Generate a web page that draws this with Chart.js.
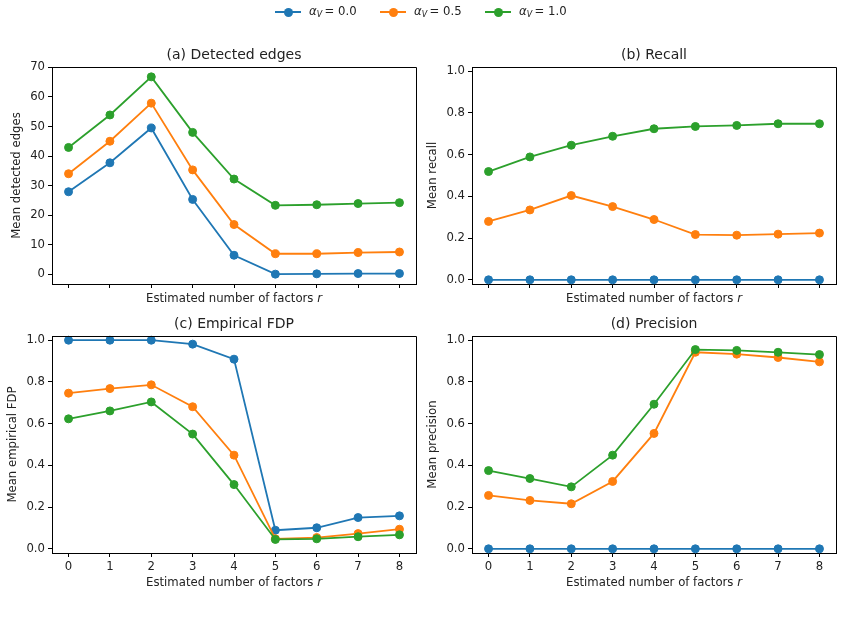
<!DOCTYPE html>
<html>
<head>
<meta charset="utf-8">
<script src="https://cdn.jsdelivr.net/npm/chart.js@4/dist/chart.umd.min.js"></script>
<style>
  html, body { margin: 0; padding: 0; background: #fff; }
  #wrap { position: relative; width: 843px; height: 630px; overflow: hidden; background: #fff; }
  #wrap canvas { position: absolute; left: 0; top: 0; }
  .leg { position: absolute; top: 3px; height: 18px; font-family: "DejaVu Sans", sans-serif; font-size: 11.7px; color: #222; }
  .leg .ln { position: absolute; left: 0; top: 8px; width: 26px; height: 2px; }
  .leg .dot { position: absolute; left: 8.5px; top: 4.5px; width: 9px; height: 9px; border-radius: 50%; }
  .leg .tx { position: absolute; left: 34px; top: 1px; white-space: nowrap; }
  .leg sub { font-size: 8px; vertical-align: -2px; }
</style>
</head>
<body>
<div id="wrap">
  <canvas id="ca" width="843" height="630"></canvas>
  <canvas id="cb" width="843" height="630"></canvas>
  <canvas id="cc" width="843" height="630"></canvas>
  <canvas id="cd" width="843" height="630"></canvas>
  <div id="legend"></div>
</div>
<script>
// ---- data ----
const factors = [0, 1, 2, 3, 4, 5, 6, 7, 8];
const alphaLabels = ['0.0', '0.5', '1.0'];

const edgesA0  = [27.9, 37.7, 49.5, 25.3, 6.4, 0.0, 0.1, 0.2, 0.2];
const edgesA05 = [34.0, 45.0, 57.9, 35.3, 16.8, 6.9, 6.9, 7.3, 7.5];
const edgesA1  = [42.9, 53.9, 66.8, 48.0, 32.2, 23.3, 23.5, 23.9, 24.2];

const recallA0  = [0, 0, 0, 0, 0, 0, 0, 0, 0];
const recallA05 = [0.280, 0.335, 0.404, 0.351, 0.289, 0.217, 0.214, 0.219, 0.224];
const recallA1  = [0.519, 0.589, 0.645, 0.688, 0.724, 0.735, 0.740, 0.748, 0.748];

const fdpA0  = [1.0, 1.0, 1.0, 0.981, 0.909, 0.089, 0.101, 0.150, 0.158];
const fdpA05 = [0.746, 0.768, 0.786, 0.681, 0.449, 0.048, 0.054, 0.073, 0.094];
const fdpA1  = [0.623, 0.661, 0.704, 0.550, 0.308, 0.045, 0.048, 0.058, 0.067];

const precA0  = [0, 0, 0, 0, 0, 0, 0, 0, 0];
const precA05 = [0.256, 0.232, 0.216, 0.323, 0.553, 0.942, 0.933, 0.917, 0.896];
const precA1  = [0.375, 0.337, 0.297, 0.449, 0.693, 0.955, 0.951, 0.942, 0.931];

const edgeTicks = [0, 10, 20, 30, 40, 50, 60, 70];
const unitTicks = [0, 0.2, 0.4, 0.6, 0.8, 1.0];

const titles = ['(a) Detected edges', '(b) Recall', '(c) Empirical FDP', '(d) Precision'];
const yLabels = ['Mean detected edges', 'Mean recall', 'Mean empirical FDP', 'Mean precision'];
const xLabelText = 'Estimated number of factors ';
const xLabelVar = 'r';

// ---- styling ----
const colors = ['#1f77b4', '#ff7f0e', '#2ca02c'];
const FONT = '"DejaVu Sans", sans-serif';
const TXT = '#222';
const W = 843, H = 630;
const WY = 50, HX = 40;
const TITLE_SIZE = 14, TITLE_PB = 3.6, TITLE_H = TITLE_SIZE * 1.2 + TITLE_PB;

// legend
const legend = document.getElementById('legend');
const legX = [275, 380, 485];
alphaLabels.forEach((a, i) => {
  const d = document.createElement('div');
  d.className = 'leg';
  d.style.left = legX[i] + 'px';
  d.innerHTML = '<div class="ln" style="background:' + colors[i] + '"></div>' +
    '<div class="dot" style="background:' + colors[i] + '"></div>' +
    '<div class="tx"><i>α</i><sub><i>V</i></sub>&#8201;= ' + a + '</div>';
  legend.appendChild(d);
});

const framePlugin = {
  id: 'frame',
  afterDraw(chart) {
    const { ctx, chartArea: { left, right, top, bottom } } = chart;
    ctx.save();
    ctx.strokeStyle = '#000';
    ctx.lineWidth = 1;
    const t = Math.round(top) + 0.5, r = Math.round(right) + 0.5;
    ctx.beginPath();
    ctx.moveTo(Math.round(left), t);
    ctx.lineTo(r, t);
    ctx.lineTo(r, Math.round(bottom) + 1);
    ctx.stroke();
    ctx.restore();
  }
};

function makeXTitle(offset) {
  return {
    id: 'xTitle',
    afterDraw(chart) {
      const { ctx, chartArea: { left, right, bottom } } = chart;
      ctx.save();
      ctx.fillStyle = TXT;
      ctx.textBaseline = 'middle';
      ctx.textAlign = 'left';
      ctx.font = '11.7px ' + FONT;
      const wa = ctx.measureText(xLabelText).width;
      ctx.font = 'italic 11.7px ' + FONT;
      const wb = ctx.measureText(xLabelVar).width;
      const x = (left + right) / 2 - (wa + wb) / 2;
      const y = bottom + offset;
      ctx.font = '11.7px ' + FONT;
      ctx.fillText(xLabelText, x, y);
      ctx.font = 'italic 11.7px ' + FONT;
      ctx.fillText(xLabelVar, x + wa, y);
      ctx.restore();
    }
  };
}

function makeChart(id, cfg) {
  const { L, T, R, B } = cfg.rect;
  const datasets = cfg.series.map((vals, i) => ({
    label: 'αV = ' + alphaLabels[i],
    data: factors.map((r, j) => ({ x: r, y: vals[j] })),
    borderColor: colors[i],
    backgroundColor: colors[i],
    pointBackgroundColor: colors[i],
    pointBorderColor: colors[i],
    borderWidth: 1.8,
    pointRadius: 4,
    pointBorderWidth: 1,
    pointHoverRadius: 4,
    tension: 0,
    fill: false,
    clip: false,
    order: 2 - i
  }));
  const tickFont = { family: FONT, size: 11.7 };
  return new Chart(document.getElementById(id), {
    type: 'line',
    data: { datasets },
    options: {
      responsive: false,
      animation: false,
      events: [],
      layout: { padding: { left: L - WY, right: W - R, top: T - TITLE_H, bottom: H - B - HX } },
      plugins: {
        legend: { display: false },
        tooltip: { enabled: false },
        title: {
          display: true, text: cfg.title, color: TXT, fullSize: false,
          font: { family: FONT, size: TITLE_SIZE, weight: 'normal', lineHeight: 1.2 },
          padding: { top: 0, bottom: TITLE_PB }
        }
      },
      scales: {
        x: {
          type: 'linear', min: -0.4, max: 8.4,
          afterBuildTicks: s => { s.ticks = factors.map(v => ({ value: v })); },
          afterFit: s => { s.height = HX; },
          grid: { display: true, drawOnChartArea: false, drawTicks: true, tickLength: 4, color: '#000', lineWidth: 1 },
          border: { display: true, color: '#000', width: 1 },
          ticks: {
            display: true, padding: 3, font: tickFont, maxRotation: 0, autoSkip: false,
            color: cfg.showX ? TXT : 'rgba(0,0,0,0)',
            callback: v => String(v)
          }
        },
        y: {
          type: 'linear', min: cfg.yMin, max: cfg.yMax,
          afterBuildTicks: s => { s.ticks = cfg.yTicks.map(v => ({ value: v })); },
          afterFit: s => { s.width = WY; },
          grid: { display: true, drawOnChartArea: false, drawTicks: true, tickLength: 4, color: '#000', lineWidth: 1 },
          border: { display: true, color: '#000', width: 1 },
          ticks: { padding: 3, font: tickFont, color: TXT, callback: cfg.fmt },
          title: {
            display: true, text: cfg.ylabel, color: TXT,
            font: { family: FONT, size: 11.7, lineHeight: 1.2 },
            padding: { top: cfg.yTitlePad, bottom: 0 }
          }
        }
      }
    },
    plugins: [framePlugin, makeXTitle(cfg.xOff)]
  });
}

const fmtInt = v => String(v);
const fmt1 = v => Number(v).toFixed(1);

makeChart('ca', { rect: { L: 52, T: 67, R: 416, B: 284 }, title: titles[0], ylabel: yLabels[0],
  series: [edgesA0, edgesA05, edgesA1], yMin: -3.34, yMax: 70.14, yTicks: edgeTicks, fmt: fmtInt,
  showX: false, xOff: 15, yTitlePad: 7.5 });
makeChart('cb', { rect: { L: 472, T: 67, R: 836, B: 284 }, title: titles[1], ylabel: yLabels[1],
  series: [recallA0, recallA05, recallA1], yMin: -0.02, yMax: 1.02, yTicks: unitTicks, fmt: fmt1,
  showX: false, xOff: 15, yTitlePad: 3.7 });
makeChart('cc', { rect: { L: 52, T: 336, R: 416, B: 553 }, title: titles[2], ylabel: yLabels[2],
  series: [fdpA0, fdpA05, fdpA1], yMin: -0.02, yMax: 1.02, yTicks: unitTicks, fmt: fmt1,
  showX: true, xOff: 30, yTitlePad: 3.7 });
makeChart('cd', { rect: { L: 472, T: 336, R: 836, B: 553 }, title: titles[3], ylabel: yLabels[3],
  series: [precA0, precA05, precA1], yMin: -0.02, yMax: 1.02, yTicks: unitTicks, fmt: fmt1,
  showX: true, xOff: 30, yTitlePad: 3.7 });
</script>
</body>
</html>
